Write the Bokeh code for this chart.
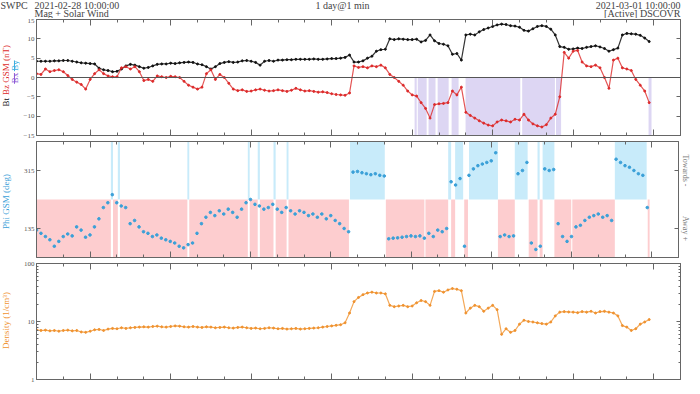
import numpy as np
from bokeh.plotting import figure
from bokeh.layouts import column, row
from bokeh.models import Range1d, LinearAxis, LogAxis, FixedTicker, Span, LogScale
from bokeh.core.properties import value
from bokeh.embed import file_html
from bokeh.resources import INLINE

FONT = "Liberation Serif"

# sample times: hours after 2021-02-28 10:00 UT, 10-minute steps
t_hours = np.arange(138) * 10 / 60.0

bt = [4.2, 4.2, 4.2, 4.2, 4.3, 4.3, 4.4, 4.4, 4.2, 4.0,
      3.8, 3.7, 3.6, 3.5, 2.4, 2.0, 1.8, 1.5, 1.6, 2.2,
      3.0, 3.4, 3.2, 2.8, 2.4, 2.6, 3.0, 3.4, 3.5, 3.5,
      3.7, 3.6, 3.8, 3.9, 4.0, 3.9, 3.5, 3.3, 2.8, 2.2,
      2.8, 3.6, 3.9, 4.1, 3.9, 4.0, 4.3, 4.4, 4.2, 3.9,
      3.2, 4.2, 4.4, 4.2, 4.5, 4.5, 4.6, 4.6, 4.7, 4.7,
      4.7, 4.7, 4.8, 4.7, 4.7, 4.8, 4.9, 4.9, 5.0, 5.2,
      5.8, 4.0, 4.0, 4.3, 5.0, 5.5, 6.8, 7.2, 7.3, 10.0,
      9.8, 10.0, 9.9, 9.8, 9.8, 9.9, 9.2, 9.6, 11.0, 9.5,
      8.8, 8.6, 8.2, 6.0, 6.2, 4.5, 11.0, 11.2, 11.0, 11.8,
      12.4, 12.8, 13.2, 13.6, 13.8, 13.7, 13.4, 13.3, 13.0, 12.2,
      12.0, 12.6, 13.2, 13.4, 13.2, 12.5, 11.0, 8.0, 7.8, 7.3,
      7.4, 7.6, 7.5, 7.8, 8.0, 8.2, 7.9, 7.5, 6.8, 7.2,
      7.6, 11.0, 11.4, 11.3, 11.2, 10.9, 10.2, 9.3]

bz = [1.0, 0.8, 2.2, 1.5, 1.8, 2.0, 1.5, 0.5, -0.5, -1.2,
      -1.8, -3.0, -0.5, 1.0, 2.0, 1.0, 0.4, 0.2, 0.2, 2.5,
      2.8, 2.2, 2.8, 1.5, -0.8, -0.5, -1.0, 0.4, 0.2, 0.0,
      0.3, 0.2, 0.0, -1.0, -2.0, -2.5, -3.0, -2.5, 1.0, 2.0,
      -0.5, 0.8, 0.0, -1.5, -3.0, -3.4, -3.2, -3.6, -3.5, -3.2,
      -3.0, -3.3, -3.5, -3.4, -3.2, -3.4, -3.6, -3.3, -2.8, -3.2,
      -3.5, -3.4, -3.6, -3.8, -3.7, -3.9, -4.2, -4.4, -4.5, -4.6,
      -4.0, 3.0, 2.6, 2.8, 2.5, 3.0, 2.8, 3.2, 2.5, 0.8,
      0.0, -1.0, -2.0, -3.5, -4.5, -4.8, -6.5, -8.0, -10.5, -7.0,
      -6.8, -6.7, -6.5, -3.5, -4.5, -2.5, -9.0, -9.8, -10.5, -11.2,
      -11.8, -12.3, -12.5, -11.5, -11.0, -11.2, -11.5, -10.8, -11.0, -9.5,
      -11.0, -12.0, -12.5, -12.8, -12.2, -10.5, -9.5, -5.0, 6.5, 5.0,
      6.8, 7.0, 4.0, 3.0, 2.8, 3.2, 2.5, 0.0, -2.8, 4.5,
      5.0, 2.5, 2.2, 1.8, -0.5, -2.0, -3.5, -6.5]

phi = [130, 120, 110, 100, 80, 95, 110, 118, 112, 140,
       130, 108, 115, 140, 165, 200, 215, 240, 215, 205,
       200, 150, 160, 140, 125, 120, 110, 115, 105, 100,
       95, 90, 80, 75, 85, 90, 120, 150, 170, 185,
       175, 190, 180, 195, 185, 170, 195, 215, 225, 210,
       205, 195, 200, 210, 195, 185, 200, 190, 180, 190,
       185, 175, 180, 170, 180, 165, 175, 160, 150, 135,
       125, 310, 312, 308, 305, 302, 305, 300, 298, 103,
       105, 106, 108, 110, 112, 110, 112, 105, 120, 110,
       130, 125, 135, 280, 270, 290, 80, 300, 320, 330,
       335, 340, 345, 370, 110, 115, 110, 112, 305, 315,
       340, 90, 70, 80, 320, 315, 318, 150, 110, 95,
       110, 140, 145, 160, 170, 175, 180, 170, 175, 160,
       350, 340, 330, 325, 315, 305, 300, 200]

density = [7.2, 7.0, 7.1, 6.9, 7.0, 6.8, 7.0, 7.1, 6.9, 7.0,
           6.6, 6.5, 6.8, 7.2, 7.3, 7.0, 7.4, 7.6, 7.5, 7.8,
           7.6, 7.8, 7.9, 8.0, 8.1, 8.0, 8.2, 8.3, 8.1, 8.0,
           8.2, 8.4, 8.3, 8.1, 8.0, 8.2, 8.0, 7.9, 8.1, 8.0,
           7.8, 7.9, 8.0, 7.8, 7.7, 7.9, 8.0, 7.8, 7.6, 7.7,
           7.5, 7.6, 7.8, 7.7, 7.5, 7.6, 7.4, 7.5, 7.6, 7.4,
           7.5, 7.6, 7.7, 7.8, 8.0, 8.2, 8.4, 8.6, 8.8, 9.5,
           14, 22, 26, 29, 31, 32, 31, 31, 30, 19,
           18, 18.5, 19, 18, 18.5, 21, 23, 22, 19, 33,
           34, 32, 35, 37, 36, 34, 14, 17, 19, 18,
           15, 17, 19, 16, 6.0, 7.5, 6.5, 7.0, 9.0, 10.5,
           10.0, 9.8, 9.5, 9.2, 9.0, 9.8, 12.5, 14.5, 14.8, 14.6,
           14.5, 14.2, 14.8, 14.5, 15.0, 14.0, 14.8, 15.0, 14.5, 14.0,
           12.5, 8.5, 8.0, 7.0, 7.5, 9.0, 9.8, 10.8]

# shaded intervals (hours after 10:00 UT)
south_start = [14.09, 14.21, 14.61, 14.95, 15.47, 15.99, 18.10, 19.36, 22.81]
south_end   = [14.17, 14.54, 14.87, 15.36, 15.73, 18.03, 19.32, 19.55, 22.92]

away_start = [0.0, 2.86, 3.12, 5.71, 7.97, 8.35, 8.94, 9.42, 13.06, 14.54, 15.50, 15.99, 17.25, 18.40, 18.81, 19.36, 20.03, 22.85]
away_end   = [2.78, 3.04, 5.64, 7.90, 8.27, 8.86, 9.35, 11.68, 14.50, 15.39, 15.65, 16.13, 17.88, 18.73, 18.92, 19.99, 21.62, 22.92]

toward_start = [2.78, 3.04, 5.64, 7.90, 8.27, 8.86, 9.35, 11.72, 15.39, 15.65, 16.17, 17.88, 18.73, 18.92, 21.62]
toward_end   = [2.86, 3.12, 5.71, 7.97, 8.35, 8.94, 9.42, 13.02, 15.50, 15.95, 17.25, 18.36, 18.81, 19.36, 22.81]

x_major = [2, 5, 8, 11, 14, 17, 20, 23]
x_minor = list(range(1, 24))
bfield_ticks = [-15, -10, -5, 0, 5, 10, 15]
phi_ticks = [135, 315]
phi_side_labels = {135: "Away +", 315: "Towards -"}
dens_ticks = [1, 10, 100]
dens_labels = {1: "1", 10: "10", 100: "100"}
dens_minor = [2, 3, 4, 5, 6, 7, 8, 9, 20, 30, 40, 50, 60, 70, 80, 90]

AX = "#666666"
TXT = "#555555"
HEAD = "#444444"
C_BT = "#111111"
C_BZ = "#dd2a2a"
C_BX = "#8e5ad6"
C_BY = "#3aaee0"
C_PHI = "#3aa0d8"
C_DEN = "#f0922e"

W = 692
LBL_W = 20
H_HEAD = 18
H1, H2, H3 = 120, 122, 126


def blank_fig(width, height):
    """A figure whose frame is the whole canvas; coordinates are pixels from top-left."""
    f = figure(width=width, height=height, x_range=Range1d(0, width), y_range=Range1d(height, 0),
               output_backend="svg", toolbar_location=None,
               min_border=0, min_border_left=0, min_border_right=0, min_border_top=0, min_border_bottom=0,
               x_axis_location=None, y_axis_location=None)
    f.grid.visible = False
    f.outline_line_color = None
    return f


def txt(f, x, y, text, color, size="9px", angle=0.0, align="center"):
    f.text(x=[x], y=[y], text=[text], text_color=color, text_font=value(FONT),
           text_font_size=value(size), angle=angle, text_align=align, text_baseline="middle")


def make_fig(height, y_range, top, bottom, log=False):
    p = figure(width=W - LBL_W, height=height, x_range=Range1d(0, 24), y_range=y_range,
               output_backend="svg", toolbar_location=None,
               min_border_left=13, min_border_right=12, min_border_top=top, min_border_bottom=bottom,
               x_axis_location=None, y_axis_location=None)
    if log:
        p.y_scale = LogScale()
    p.grid.visible = False
    p.outline_line_color = AX
    p.outline_line_width = 1
    for loc in ("below", "above"):
        ax = LinearAxis(ticker=FixedTicker(ticks=x_major, minor_ticks=x_minor))
        ax.axis_line_color = AX
        ax.major_tick_line_color = AX
        ax.minor_tick_line_color = AX
        ax.major_tick_in = 6
        ax.major_tick_out = 0
        ax.minor_tick_in = 3
        ax.minor_tick_out = 0
        ax.major_label_text_font_size = "1px"
        ax.major_label_text_color = None
        ax.major_label_standoff = 0
        p.add_layout(ax, loc)
    return p


def y_axes(p, ticks, minor=None, log=False, left_labels=None, right_labels=None):
    for loc in ("left", "right"):
        tk = FixedTicker(ticks=ticks, minor_ticks=minor or [])
        ax = LogAxis(ticker=tk) if log else LinearAxis(ticker=tk)
        ax.axis_line_color = AX
        ax.major_tick_line_color = AX
        ax.minor_tick_line_color = AX
        ax.major_tick_in = 4
        ax.major_tick_out = 0
        ax.minor_tick_in = 2
        ax.minor_tick_out = 0
        ax.major_label_text_font = FONT
        ax.major_label_text_color = TXT
        if loc == "left":
            ax.major_label_text_font_size = "7px"
            ax.major_label_standoff = 2
            if left_labels:
                ax.major_label_overrides = left_labels
        elif right_labels:
            ax.major_label_overrides = right_labels
            ax.major_label_orientation = "vertical"
            ax.major_label_text_font_size = "8px"
            ax.major_label_text_color = "#777777"
            ax.major_label_standoff = 2
        else:
            ax.major_label_text_font_size = "1px"
            ax.major_label_text_color = None
            ax.major_label_standoff = 0
        p.add_layout(ax, loc)


VERT = np.pi / 2
COL1, COL2 = 5, 14

# ---------------- header ----------------
head = blank_fig(W, H_HEAD)
txt(head, 0, 4.5, "SWPC", HEAD, size="10px", align="left")
txt(head, 34, 4.5, "2021-02-28 10:00:00", HEAD, size="10px", align="left")
txt(head, 34, 13, "Mag + Solar Wind", HEAD, size="10px", align="left")
txt(head, 342, 4.5, "1 day@1 min", HEAD, size="10px")
txt(head, 680, 4.5, "2021-03-01 10:00:00", HEAD, size="10px", align="right")
txt(head, 680, 13, "[Active] DSCOVR", HEAD, size="10px", align="right")

# ---------------- panel 1: magnetic field ----------------
p1 = make_fig(H1, Range1d(-15, 15), top=1, bottom=3)
y_axes(p1, bfield_ticks)
p1.quad(left=south_start, right=south_end, bottom=-15, top=0,
        fill_color="#ddd6f3", line_color=None)
p1.add_layout(Span(location=0, dimension="width", line_color="#555555", line_width=1))
p1.line(t_hours, bt, line_color=C_BT, line_width=1.2, line_alpha=0.85)
p1.scatter(t_hours, bt, size=2.0, color=C_BT)
p1.line(t_hours, bz, line_color=C_BZ, line_width=1.2, line_alpha=0.8)
p1.scatter(t_hours, bz, size=2.0, color=C_BZ)

l1 = blank_fig(LBL_W, H1)
txt(l1, COL1, 90, "Bt", C_BT, angle=VERT, align="left")
txt(l1, COL1, 78, "Bz GSM (nT)", C_BZ, angle=VERT, align="left")
txt(l1, COL2, 66, "Bx", C_BX, angle=VERT, align="left")
txt(l1, COL2, 53, "By", C_BY, angle=VERT, align="left")
l1.segment(x0=[COL2, COL2], y0=[66.5, 53.5], x1=[COL2, COL2], y1=[55.5, 42.5],
           line_color=[C_BX, C_BY], line_width=1)

# ---------------- panel 2: phi ----------------
p2 = make_fig(H2, Range1d(45, 405), top=3, bottom=3)
y_axes(p2, phi_ticks, right_labels=phi_side_labels)
p2.quad(left=away_start, right=away_end, bottom=45, top=225, fill_color="#fdcdcf", line_color=None)
p2.quad(left=toward_start, right=toward_end, bottom=225, top=405, fill_color="#c8ebfa", line_color=None)
p2.scatter(t_hours, phi, size=2.6, color=C_PHI)

l2 = blank_fig(LBL_W, H2)
txt(l2, COL1, 63, "Phi GSM (deg)", C_PHI, angle=VERT)

# ---------------- panel 3: density ----------------
p3 = make_fig(H3, Range1d(1, 100), top=3, bottom=7, log=True)
y_axes(p3, dens_ticks, minor=dens_minor, log=True, left_labels=dens_labels)
p3.line(t_hours, density, line_color=C_DEN, line_width=1.2, line_alpha=0.8)
p3.scatter(t_hours, density, size=2.0, color=C_DEN)

l3 = blank_fig(LBL_W, H3)
txt(l3, COL1, 62, "Density (1/cm\u00b3)", C_DEN, angle=VERT)

layout = column(head, row(l1, p1, spacing=0), row(l2, p2, spacing=0), row(l3, p3, spacing=0), spacing=0)
open("out.html", "w").write(file_html(layout, INLINE))
